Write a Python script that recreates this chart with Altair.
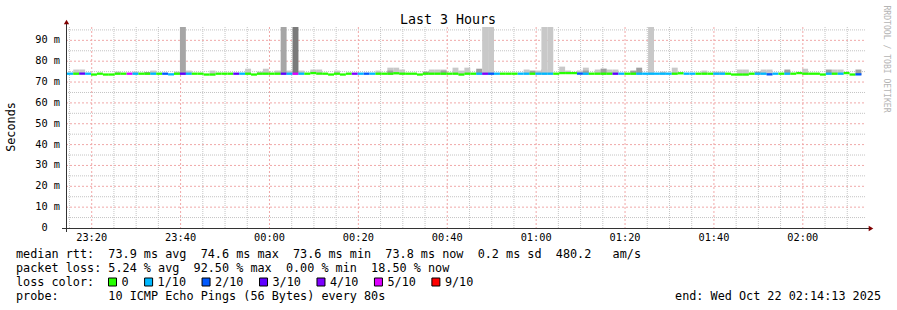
import altair as alt
import pandas as pd

# ---------------- data ----------------
TITLE = "Last 3 Hours"
UNIT = "Seconds"
WATERMARK = "RRDTOOL / TOBI OETIKER"
START = "23:14:13"          # left edge of the graph (end - 3h)
SPAN_SEC = 3 * 3600
STEP_SEC = 80
FIRST_STEP_OFFSET = 18      # first full RRD step starts 18 s after START
Y_MAX = 96.4                # top of the plot, ms

# median RTT per 80 s step (ms)
median = [
    74.0, 74.0, 74.0, 74.0, 73.6, 74.0, 73.6, 73.6, 74.0, 74.0,
    74.0, 74.0, 74.0, 74.0, 74.0, 74.0, 74.0, 73.7, 74.0, 74.0,
    74.0, 74.0, 74.0, 73.6, 73.6, 74.0, 74.0, 74.0, 74.0, 74.0,
    74.0, 73.6, 74.0, 74.0, 74.0, 74.0, 74.0, 74.0, 74.0, 74.0,
    74.0, 74.3, 74.0, 74.0, 73.6, 74.0, 73.6, 74.0, 74.0, 74.0,
    74.0, 74.0, 74.0, 74.0, 74.0, 74.2, 74.0, 74.0, 74.0, 73.6,
    74.0, 74.0, 74.0, 74.0, 74.0, 74.0, 73.6, 74.0, 74.0, 74.0,
    74.0, 74.0, 74.0, 74.0, 74.0, 74.0, 74.0, 74.0, 74.0, 74.0,
    74.0, 74.0, 74.0, 74.3, 74.3, 74.3, 74.0, 74.0, 74.0, 74.0,
    74.0, 74.0, 74.0, 74.0, 74.0, 74.0, 74.0, 74.0, 74.0, 74.0,
    74.0, 74.0, 74.0, 74.2, 74.0, 74.0, 74.0, 74.0, 74.0, 74.0,
    74.0, 74.0, 73.6, 73.6, 73.6, 74.0, 74.0, 74.0, 73.7, 74.0,
    74.0, 74.0, 74.0, 74.3, 74.0, 74.0, 74.0, 73.6, 74.0, 74.0,
    74.0, 74.3, 73.6, 73.7,
]

# lost pings out of 10 per step
loss = [
    1, 0, 3, 1, 0, 0, 0, 0, 0, 0,
    5, 1, 0, 0, 1, 0, 2, 1, 0, 3,
    1, 0, 0, 0, 0, 0, 0, 0, 3, 1,
    0, 0, 0, 0, 0, 0, 3, 1, 5, 1,
    0, 0, 0, 0, 0, 0, 0, 0, 4, 1,
    2, 1, 0, 0, 0, 0, 0, 0, 0, 0,
    0, 0, 0, 0, 0, 0, 0, 0, 0, 1,
    4, 2, 1, 0, 0, 0, 1, 1, 0, 1,
    1, 1, 0, 0, 0, 0, 2, 1, 0, 0,
    0, 0, 3, 1, 0, 0, 1, 1, 1, 1,
    1, 1, 0, 0, 1, 1, 0, 0, 0, 1,
    1, 0, 0, 0, 0, 0, 1, 1, 2, 1,
    0, 1, 0, 0, 0, 0, 0, 0, 1, 0,
    1, 0, 0, 2,
]

# top of the light smoke (ms), 0 = no visible smoke
smoke_top = [
    0, 76.0, 76.0, 0, 0, 0, 0, 0, 75.0, 0,
    0, 75.0, 0, 74.6, 75.5, 0, 0, 0, 75.0, 0,
    75.5, 0, 0, 0, 75.5, 0, 0, 0, 0, 0,
    76.4, 0, 75.0, 76.4, 0, 75.5, 0, 75.5, 0, 75.5,
    0, 76.0, 76.0, 0, 0, 75.5, 0, 0, 0, 0,
    0, 0, 75.5, 0, 76.9, 76.9, 76.0, 0, 0, 0,
    0, 76.0, 76.0, 76.0, 0, 76.9, 75.5, 76.9, 0, 0,
    0, 0, 0, 0, 0, 0, 0, 76.0, 0, 75.5,
    0, 0, 0, 77.4, 75.5, 0, 75.5, 76.9, 0, 76.0,
    76.4, 76.0, 76.0, 0, 0, 0, 0, 0, 0, 0,
    75.0, 0, 76.9, 0, 0, 0, 0, 75.5, 0, 75.0,
    75.0, 0, 0, 76.0, 76.0, 0, 0, 76.0, 76.0, 0,
    0, 0, 0, 0, 76.4, 0, 0, 0, 0, 76.0,
    76.0, 0, 0, 0,
]

# top of the darker smoke (ms), 0 = none
dark_top = [
    0, 0, 0, 0, 0, 0, 0, 0, 0, 0,
    0, 0, 0, 74.8, 0, 0, 0, 0, 0, 75.0,
    0, 0, 0, 0, 0, 0, 0, 0, 0, 0,
    0, 0, 0, 0, 0, 0, 0, 0, 0, 0,
    0, 0, 0, 0, 0, 0, 0, 0, 0, 0,
    0, 0, 0, 0, 75.5, 0, 0, 0, 0, 0,
    75.0, 0, 0, 75.5, 0, 0, 0, 0, 0, 76.4,
    0, 75.5, 0, 0, 0, 0, 0, 0, 75.5, 0,
    76.0, 0, 0, 0, 0, 0, 0, 75.5, 0, 0,
    76.4, 0, 0, 0, 0, 75.5, 76.9, 0, 76.4, 0,
    0, 0, 0, 0, 0, 0, 0, 0, 0, 0,
    0, 0, 0, 0, 0, 0, 75.0, 0, 0, 0,
    0, 76.0, 0, 0, 0, 0, 0, 0, 76.0, 0,
    0, 0, 0, 76.0,
]

# steps where one or more pings went off the top of the graph
spike_steps = [19, 36, 38, 70, 71, 80, 81, 98]
spike_level = [2, 2, 3, 1, 1, 1, 1, 1]   # how many pings were high
SPIKE_TOP = 120.0

x_labels = ["23:20", "23:40", "00:00", "00:20", "00:40", "01:00", "01:20", "01:40", "02:00"]
y_ticks = [0, 10, 20, 30, 40, 50, 60, 70, 80, 90]

line_rtt = "median rtt:  73.9 ms avg  74.6 ms max  73.6 ms min  73.8 ms now  0.2 ms sd  480.2   am/s"
line_loss = "packet loss: 5.24 % avg  92.50 % max  0.00 % min  18.50 % now"
line_color = "loss color:"
line_probe = "probe:       10 ICMP Echo Pings (56 Bytes) every 80s"
line_end = "end: Wed Oct 22 02:14:13 2025"

loss_labels = ["0", "1/10", "2/10", "3/10", "4/10", "5/10", "9/10"]
loss_codes = [0, 1, 2, 3, 4, 5, 9]
loss_colors = ["#26ff00", "#00b8ff", "#0059ff", "#5e00ff", "#7e00ff", "#dd00ff", "#ff0000"]

# ---------------- styling / layout ----------------
MONO = "DejaVu Sans Mono"
W, H = 800, 201
PAD_L, PAD_T = 66, 27
GRID_MINOR = "#c4c4c4"
GRID_MAJOR = "#f0a8a8"
SMOKE_LIGHT = "#c8c8c8"
SMOKE_DARK = "#a0a0a0"
SPIKE_COLORS = {1: "#c8c8c8", 2: "#a6a6a6", 3: "#7a7a7a"}
AXIS_COLOR = "#333333"
ARROW_COLOR = "#800000"
AXIS_FS = 10.3
AXIS_CH = AXIS_FS * 0.602   # monospace advance


def hms(s):
    p = [int(v) for v in s.split(":")]
    while len(p) < 3:
        p.append(0)
    return p[0] * 3600 + p[1] * 60 + p[2]


S0 = hms(START)


def rel_sec(clock):
    return (hms(clock) - S0) % 86400


def nb(s):
    return s.replace(" ", "\u00a0")


n = len(median)
t0 = [0 if k == 0 else FIRST_STEP_OFFSET + STEP_SEC * k for k in range(n)]
t1 = [FIRST_STEP_OFFSET + STEP_SEC * (k + 1) for k in range(n)]


def loss_code(l):
    if l >= 9:
        return 9
    if l >= 5:
        return 5
    return l


code_color = dict(zip(loss_codes, loss_colors))

xs = alt.Scale(domain=[0, SPAN_SEC], nice=False, zero=False)
ys = alt.Scale(domain=[0, Y_MAX], nice=False, zero=False)

band_df = pd.DataFrame({
    "t0": t0, "t1": t1,
    "lo": [m - 0.55 for m in median], "hi": [m + 0.55 for m in median],
    "col": [code_color[loss_code(l)] for l in loss],
})
smoke_df = pd.DataFrame([
    {"t0": t0[k], "t1": t1[k], "lo": median[k] - 0.4, "hi": smoke_top[k]}
    for k in range(n) if smoke_top[k] > 0
])
dark_df = pd.DataFrame([
    {"t0": t0[k], "t1": t1[k], "lo": median[k] - 0.4, "hi": dark_top[k]}
    for k in range(n) if dark_top[k] > 0
])
spike_df = pd.DataFrame([
    {"t0": t0[k], "t1": t1[k], "lo": median[k] - 0.4, "hi": SPIKE_TOP, "col": SPIKE_COLORS[lv]}
    for k, lv in zip(spike_steps, spike_level)
])

# grid positions (every 5 min / every 5 ms; majors every 20 min / 10 ms)
first5 = ((S0 + 299) // 300) * 300
vgrid = []
t = first5
while t - S0 <= SPAN_SEC:
    vgrid.append({"t": t - S0, "major": (t % 1200 == 0)})
    t += 300
vgrid_df = pd.DataFrame(vgrid)
hgrid_df = pd.DataFrame([{"v": v, "major": (v % 10 == 0)} for v in range(5, int(Y_MAX) + 1, 5)])


def rects(df, color=None):
    enc = dict(
        x=alt.X("t0:Q", scale=xs, axis=None), x2="t1:Q",
        y=alt.Y("lo:Q", scale=ys, axis=None), y2="hi:Q",
    )
    if color is None:
        enc["color"] = alt.Color("col:N", scale=None, legend=None)
        return alt.Chart(df).mark_rect(clip=True).encode(**enc)
    return alt.Chart(df).mark_rect(color=color, clip=True).encode(**enc)


layers = []
# grid
layers.append(alt.Chart(hgrid_df[~hgrid_df.major]).mark_rule(color=GRID_MINOR, strokeDash=[1, 1], strokeWidth=1).encode(
    y=alt.Y("v:Q", scale=ys, axis=None), x=alt.value(0), x2=alt.value(W)))
layers.append(alt.Chart(vgrid_df[~vgrid_df.major]).mark_rule(color=GRID_MINOR, strokeDash=[1, 1], strokeWidth=1).encode(
    x=alt.X("t:Q", scale=xs, axis=None), y=alt.value(0), y2=alt.value(H)))
layers.append(alt.Chart(hgrid_df[hgrid_df.major]).mark_rule(color=GRID_MAJOR, strokeDash=[2, 2], strokeWidth=1).encode(
    y=alt.Y("v:Q", scale=ys, axis=None), x=alt.value(0), x2=alt.value(W)))
layers.append(alt.Chart(vgrid_df[vgrid_df.major]).mark_rule(color=GRID_MAJOR, strokeDash=[2, 2], strokeWidth=1).encode(
    x=alt.X("t:Q", scale=xs, axis=None), y=alt.value(0), y2=alt.value(H)))

# smoke
layers.append(rects(smoke_df, SMOKE_LIGHT))
layers.append(rects(dark_df, SMOKE_DARK))
layers.append(rects(spike_df))
# median line coloured by loss
layers.append(rects(band_df))

# axes lines and arrows
one = pd.DataFrame({"a": [0]})
layers.append(alt.Chart(one).mark_rule(color=AXIS_COLOR, strokeWidth=1).encode(
    x=alt.value(0.5), y=alt.value(-3), y2=alt.value(H + 4)))
layers.append(alt.Chart(one).mark_rule(color=AXIS_COLOR, strokeWidth=1).encode(
    y=alt.value(H + 0.5), x=alt.value(-4), x2=alt.value(W + 4)))
layers.append(alt.Chart(one).mark_point(shape="triangle-up", filled=True, color=ARROW_COLOR, size=28, opacity=1).encode(
    x=alt.value(0.5), y=alt.value(-5)))
layers.append(alt.Chart(one).mark_point(shape="triangle-right", filled=True, color=ARROW_COLOR, size=28, opacity=1).encode(
    x=alt.value(W + 5), y=alt.value(H + 0.5)))

# tick labels
xlab_df = pd.DataFrame({"lab": x_labels, "t": [rel_sec(l) for l in x_labels]})
layers.append(alt.Chart(xlab_df).mark_text(font=MONO, fontSize=AXIS_FS, align="center", baseline="middle", color="black").encode(
    x=alt.X("t:Q", scale=xs, axis=None), y=alt.value(210.5), text="lab:N"))
# labels are laid out as "%2.0f %s": the bare "0" keeps the unit column empty
ylab_df = pd.DataFrame({
    "v": y_ticks,
    "lab": [nb(f"{v} m") if v else "0" for v in y_ticks],
    "px": [-6 if v else -6 - 2 * AXIS_CH for v in y_ticks],
})
layers.append(alt.Chart(ylab_df).mark_text(font=MONO, fontSize=AXIS_FS, align="right", baseline="middle", color="black").encode(
    y=alt.Y("v:Q", scale=ys, axis=None), x=alt.X("px:Q", scale=None), text="lab:N"))


def txt(s, x, y, size=11.8, align="left", angle=0, color="black"):
    kw = dict(font=MONO, fontSize=size, align=align, baseline="middle", color=color)
    if angle:
        kw["angle"] = angle
    return alt.Chart(pd.DataFrame({"s": [nb(s)]})).mark_text(**kw).encode(
        text="s:N", x=alt.value(x - PAD_L), y=alt.value(y - PAD_T))


layers.append(txt(TITLE, 448, 19.5, size=13.3, align="center"))
layers.append(txt(UNIT, 11, 127, size=11.8, align="center", angle=270))
layers.append(txt(WATERMARK, 886, 59, size=8.1, align="center", angle=90, color="#b4b4b4"))
layers.append(txt(line_rtt, 16, 254))
layers.append(txt(line_loss, 16, 268))
layers.append(txt(line_color, 16, 282))
layers.append(txt(line_probe, 16, 296))
layers.append(txt(line_end, 881, 296, align="right"))

# loss colour legend
CH = 7.12
bx = []
pos = 112.5
for lab in loss_labels:
    bx.append(pos)
    pos += CH * (len(lab) + 4) + 0.5
leg_df = pd.DataFrame({
    "col": loss_colors, "lab": loss_labels,
    "bx": [b - PAD_L for b in bx], "tx": [b + 9 - PAD_L for b in bx],
})
layers.append(alt.Chart(leg_df).mark_point(shape="square", filled=True, stroke="black", strokeWidth=1, size=64, opacity=1).encode(
    x=alt.X("bx:Q", scale=None), y=alt.value(282 - PAD_T),
    fill=alt.Fill("col:N", scale=None, legend=None)))
layers.append(alt.Chart(leg_df).mark_text(font=MONO, fontSize=11.8, align="left", baseline="middle", color="black").encode(
    x=alt.X("tx:Q", scale=None), y=alt.value(282 - PAD_T), text="lab:N"))

chart = alt.layer(*layers).properties(
    width=W, height=H,
    autosize=alt.AutoSizeParams(type="none"),
    padding={"left": PAD_L, "top": PAD_T, "right": 897 - PAD_L - W, "bottom": 310 - PAD_T - H},
).configure(background="white").configure_view(strokeWidth=0)

chart.save("out.html", embed_options={"renderer": "svg", "actions": False})
